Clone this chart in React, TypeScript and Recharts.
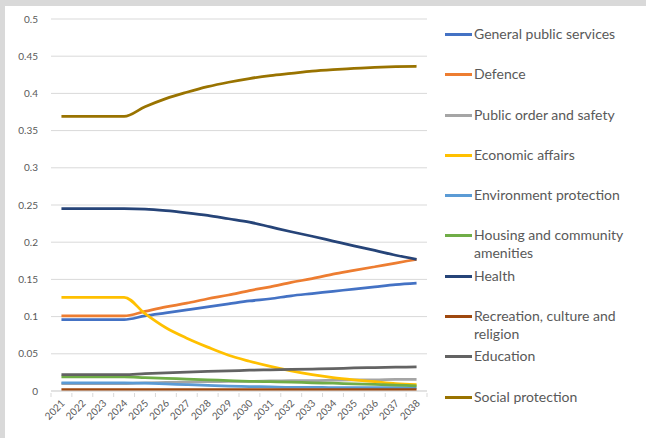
import { LineChart, Line, XAxis, YAxis, CartesianGrid, Legend } from "recharts";

const years = [
  "2021", "2022", "2023", "2024", "2025", "2026", "2027", "2028", "2029",
  "2030", "2031", "2032", "2033", "2034", "2035", "2036", "2037", "2038",
];

const generalPublic = [0.096, 0.096, 0.096, 0.096, 0.101, 0.105, 0.109, 0.113, 0.117, 0.121, 0.124, 0.128, 0.131, 0.134, 0.137, 0.14, 0.143, 0.145];
const defence = [0.101, 0.101, 0.101, 0.101, 0.107, 0.113, 0.118, 0.124, 0.129, 0.135, 0.14, 0.146, 0.151, 0.157, 0.162, 0.167, 0.172, 0.177];
const publicOrder = [0.01, 0.01, 0.01, 0.01, 0.011, 0.0115, 0.012, 0.0125, 0.013, 0.013, 0.0135, 0.014, 0.014, 0.0145, 0.015, 0.015, 0.0155, 0.0155];
const economic = [0.126, 0.126, 0.126, 0.126, 0.104, 0.085, 0.071, 0.059, 0.048, 0.04, 0.033, 0.027, 0.022, 0.018, 0.015, 0.0125, 0.01, 0.0085];
const environment = [0.011, 0.011, 0.011, 0.011, 0.0105, 0.0095, 0.0085, 0.0075, 0.0065, 0.006, 0.0055, 0.005, 0.005, 0.0045, 0.0045, 0.0045, 0.0045, 0.0045];
const housing = [0.019, 0.019, 0.019, 0.019, 0.018, 0.017, 0.016, 0.015, 0.014, 0.013, 0.0125, 0.012, 0.011, 0.0105, 0.0095, 0.009, 0.008, 0.007];
const health = [0.245, 0.245, 0.245, 0.245, 0.2445, 0.2425, 0.2395, 0.236, 0.2315, 0.227, 0.2205, 0.214, 0.208, 0.2015, 0.195, 0.189, 0.1825, 0.177];
const recreation = [0.002, 0.002, 0.002, 0.002, 0.002, 0.002, 0.002, 0.002, 0.002, 0.002, 0.002, 0.002, 0.002, 0.002, 0.002, 0.002, 0.002, 0.002];
const education = [0.022, 0.022, 0.022, 0.022, 0.0235, 0.0245, 0.0255, 0.0265, 0.027, 0.028, 0.0285, 0.029, 0.0295, 0.03, 0.031, 0.0315, 0.032, 0.0325];
const social = [0.369, 0.369, 0.369, 0.369, 0.382, 0.393, 0.4015, 0.409, 0.415, 0.42, 0.424, 0.427, 0.43, 0.432, 0.4335, 0.435, 0.436, 0.4365];

const yTicks = [0, 0.05, 0.1, 0.15, 0.2, 0.25, 0.3, 0.35, 0.4, 0.45, 0.5];

const series = [
  { key: "gps", name: "General public services", color: "#4472c4", values: generalPublic },
  { key: "def", name: "Defence", color: "#ed7d31", values: defence },
  { key: "pos", name: "Public order and safety", color: "#a5a5a5", values: publicOrder },
  { key: "eco", name: "Economic affairs", color: "#ffc000", values: economic },
  { key: "env", name: "Environment protection", color: "#5b9bd5", values: environment },
  { key: "hou", name: "Housing and community amenities", color: "#70ad47", values: housing },
  { key: "hea", name: "Health", color: "#264478", values: health },
  { key: "rec", name: "Recreation, culture and religion", color: "#9e480e", values: recreation },
  { key: "edu", name: "Education", color: "#636363", values: education },
  { key: "soc", name: "Social protection", color: "#997300", values: social },
];

const data = years.map((year, i) => {
  const row: Record<string, string | number> = { year };
  series.forEach((s) => {
    row[s.key] = s.values[i];
  });
  return row;
});

const FONT = "Lato, 'Open Sans', sans-serif";
const PLOT_LEFT = 51;
const PLOT_RIGHT = 427;
const BAND = (PLOT_RIGHT - PLOT_LEFT) / years.length;

function YearTick(props: any) {
  const { x, y, payload, index } = props;
  const tx = x + 4;
  const ty = y + 11;
  return (
    <g>
      <line x1={x - BAND / 2} x2={x - BAND / 2} y1={y} y2={y + 4} stroke="#d9d9d9" />
      {index === years.length - 1 && (
        <line x1={x + BAND / 2} x2={x + BAND / 2} y1={y} y2={y + 4} stroke="#d9d9d9" />
      )}
      <text
        x={tx}
        y={ty}
        textAnchor="end"
        fill="#595959"
        fontSize={10}
        fontFamily={FONT}
        transform={`rotate(-45 ${tx} ${ty})`}
      >
        {payload.value}
      </text>
    </g>
  );
}

// legend drawn in series order (the default content sorts by name)
function LegendBox() {
  return (
    <div style={{ fontFamily: FONT, fontSize: 14, color: "#595959" }}>
      {series.map((s) => (
        <div key={s.key} style={{ height: 40.3, display: "flex", alignItems: "flex-start" }}>
          <div style={{ width: 27, height: 3, background: s.color, marginTop: 8, flexShrink: 0 }} />
          <div style={{ marginLeft: 2, width: 162, lineHeight: "18px" }}>{s.name}</div>
        </div>
      ))}
    </div>
  );
}

export default function App() {
  return (
    <div style={{ position: "absolute", left: 0, top: 0, width: 646, height: 438, background: "#d9d9d9" }}>
      <div style={{ position: "absolute", left: 5, top: 6, width: 641, height: 432, background: "#ffffff" }} />
      <div style={{ position: "absolute", left: 0, top: 0 }}>
        <LineChart width={646} height={438} data={data} margin={{ top: 19, right: 29, bottom: 5, left: 0 }}>
          <CartesianGrid vertical={false} stroke="#d9d9d9" />
          <XAxis
            dataKey="year"
            scale="band"
            stroke="#d9d9d9"
            tickLine={false}
            tickSize={0}
            height={42}
            interval={0}
            tick={<YearTick />}
          />
          <YAxis
            domain={[0, 0.5]}
            ticks={yTicks}
            width={PLOT_LEFT}
            axisLine={false}
            tickLine={false}
            tickSize={0}
            tickMargin={13}
            tick={{ fill: "#595959", fontSize: 10, fontFamily: FONT }}
          />
          <Legend
            layout="vertical"
            align="right"
            verticalAlign="top"
            width={190}
            content={<LegendBox />}
            wrapperStyle={{ left: 445, top: 25, width: 190 }}
          />
          {series.map((s) => (
            <Line
              key={s.key}
              type="monotone"
              dataKey={s.key}
              name={s.name}
              stroke={s.color}
              strokeWidth={2.75}
              dot={false}
              isAnimationActive={false}
            />
          ))}
        </LineChart>
      </div>
    </div>
  );
}
